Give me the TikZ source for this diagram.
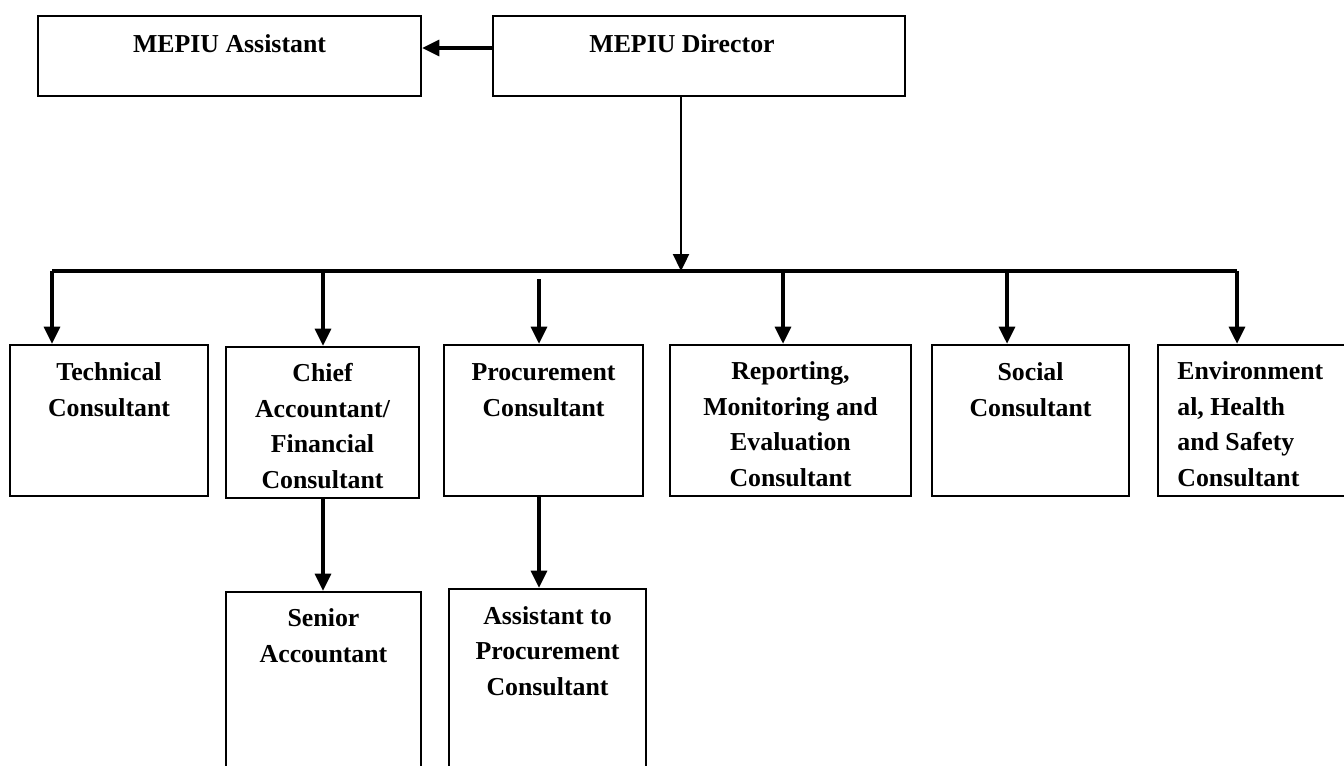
\documentclass[tikz,border=0pt]{standalone}
\usepackage{fontspec}
\setmainfont{Liberation Serif}
\usetikzlibrary{arrows.meta}

\tikzset{
    box/.style={draw, line width=1.5pt, minimum height=3.02cm},
    txt/.style={font=\bfseries\fontsize{14.7pt}{20.2pt}\selectfont, align=center, inner sep=0pt, anchor=base},
    arr/.style={line width=1.8pt, -{Triangle[length=0.34cm,width=0.32cm]}},
}

\begin{document}
\begin{tikzpicture}[x=0.02cm, y=-0.02cm]

    \useasboundingbox (0,0) rectangle (1344,765);

    % Director and assistant
    \node[box, minimum width=7.66cm, minimum height=1.6cm] (asst) at (229.5,56) {};
    \node[box, minimum width=8.24cm, minimum height=1.6cm] (dir) at (699,56) {};
    \node[txt] (asst-txt) at (229.5,52) {MEPIU Assistant};
    \node[txt] (dir-txt) at (682,52) {MEPIU Director};

    % Consultants (text nodes sit on the baseline of their last line)
    \node[box, minimum width=3.96cm] (tech) at (109,420.5) {};
    \node[box, minimum width=3.86cm] (chief) at (322.5,422.5) {};
    \node[box, minimum width=3.98cm] (proc) at (543.5,420.5) {};
    \node[box, minimum width=4.82cm] (rep) at (790.5,420.5) {};
    \node[box, minimum width=3.94cm] (soc) at (1030.5,420.5) {};
    \node[box, minimum width=4.04cm] (env) at (1259,420.5) {};

    \node[txt] (tech-txt) at (109,416) {Technical\\Consultant};
    \node[txt] (chief-txt) at (322.5,488) {Chief\\Accountant/\\Financial\\Consultant};
    \node[txt] (proc-txt) at (543.5,416) {Procurement\\Consultant};
    \node[txt] (rep-txt) at (790.5,486) {Reporting,\\Monitoring and\\Evaluation\\Consultant};
    \node[txt] (soc-txt) at (1030.5,416) {Social\\Consultant};
    \node[txt, align=left, anchor=base west] (env-txt) at (1177,486) {Environment\\al, Health\\and Safety\\Consultant};

    % Staff below
    \node[box, minimum width=3.9cm, minimum height=3.76cm] (senior) at (323.5,686) {};
    \node[box, minimum width=3.94cm, minimum height=3.82cm] (aproc) at (547.5,684.5) {};
    \node[txt] (senior-txt) at (323.5,662) {Senior\\Accountant};
    \node[txt] (aproc-txt) at (547.5,695) {Assistant to\\Procurement\\Consultant};

    % Bus line
    \coordinate (busmid) at (681,271);
    \foreach \n/\x in {tech/52, chief/323, rep/783, soc/1007, env/1237}
        \coordinate (drop-\n) at (\x,271);
    \coordinate (drop-proc) at (539,279);
    \draw[line width=2.2pt] (drop-tech) -- (drop-env);

    % Connectors
    \draw[arr] ([yshift=0.16cm]dir.west) -- ([yshift=0.16cm]asst.east);
    \draw[arr, line width=1.3pt] (dir.south -| busmid) -- (busmid);
    \foreach \n in {tech, chief, proc, rep, soc, env}
        \draw[arr] (drop-\n) -- (\n.north -| drop-\n);
    \draw[arr] (chief.south -| drop-chief) -- (senior.north -| drop-chief);
    \draw[arr] (proc.south -| drop-proc) -- (aproc.north -| drop-proc);

\end{tikzpicture}
\end{document}
